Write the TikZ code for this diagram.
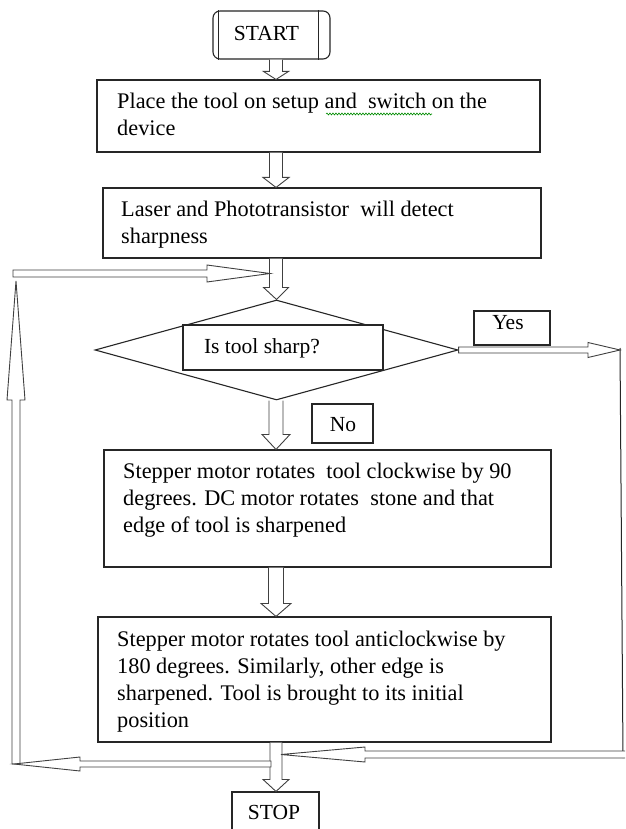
\documentclass[tikz,border=0pt]{standalone}
\usepackage{fontspec}
\setmainfont{Liberation Serif}
\usetikzlibrary{calc,shapes.geometric,decorations.pathmorphing}
\tikzset{
  boxn/.style={draw=black!85, line width=1.1pt, inner sep=0pt, fill=white},
  txt/.style={inner sep=0pt, align=left, font=\fontsize{22.3}{27}\selectfont},
  lbl/.style={inner sep=0pt, font=\fontsize{21.5}{27}\selectfont},
  blk/.style={draw=black!75, line width=0.9pt, fill=white, line join=miter},
  thin/.style={draw=black!85, line width=1pt}
}
% down block arrow: #1 from, #2 to, #3 shaft half, #4 head half, #5 head length
\newcommand\bkdown[5]{\draw[blk] let \p1=#1, \p2=#2 in (\x1-#3,\y1) -- (\x1-#3,\y2+#5) -- (\x1-#4,\y2+#5) -- (\x2,\y2) -- (\x1+#4,\y2+#5) -- (\x1+#3,\y2+#5) -- (\x1+#3,\y1);}
% up block arrow
\newcommand\bkup[5]{\draw[blk] let \p1=#1, \p2=#2 in (\x1-#3,\y1) -- (\x1-#3,\y2-#5) -- (\x1-#4,\y2-#5) -- (\x2,\y2) -- (\x1+#4,\y2-#5) -- (\x1+#3,\y2-#5) -- (\x1+#3,\y1) -- cycle;}
% right block arrow
\newcommand\bkright[5]{\draw[blk] let \p1=#1, \p2=#2 in (\x1,\y1+#3) -- (\x2-#5,\y1+#3) -- (\x2-#5,\y1+#4) -- (\x2,\y2) -- (\x2-#5,\y1-#4) -- (\x2-#5,\y1-#3) -- (\x1,\y1-#3) -- cycle;}
% left block arrow
\newcommand\bkleft[5]{\draw[blk] let \p1=#1, \p2=#2 in (\x1,\y1+#3) -- (\x2+#5,\y1+#3) -- (\x2+#5,\y1+#4) -- (\x2,\y2) -- (\x2+#5,\y1-#4) -- (\x2+#5,\y1-#3) -- (\x1,\y1-#3) -- cycle;}
\begin{document}
\begin{tikzpicture}[x=1pt,y=-1pt]
\clip (0,0) rectangle (625,829);
\fill[white] (0,0) rectangle (625,829);

% START
\node[boxn, rounded corners=7pt, minimum width=117pt, minimum height=48pt] (start) at (271.5,35) {};
\draw[thin] ([xshift=6pt]start.north west) -- ([xshift=6pt]start.south west);
\draw[thin] ([xshift=-12pt]start.north east) -- ([xshift=-12pt]start.south east);
\node[lbl] (starttxt) at (266.5,33) {START};

% boxes
\node[boxn, minimum width=443pt, minimum height=72pt] (b1) at (318.5,116) {};
\node[boxn, minimum width=438pt, minimum height=70pt] (b2) at (322,223) {};
\node[draw=black!85, line width=1.1pt, diamond, inner sep=0pt, minimum width=363pt, minimum height=100pt] (dia) at (276.5,350) {};
\node[boxn, minimum width=200pt, minimum height=45pt] (q) at (283,347.5) {};
\node[lbl] (qtxt) at (262,348) {Is tool sharp?};
\node[boxn, minimum width=76pt, minimum height=34pt] (yes) at (512,328) {};
\node[lbl] (yestxt) at (508,323) {Yes};
\node[boxn, minimum width=61pt, minimum height=39pt] (no) at (342.5,423.5) {};
\node[lbl] (notxt) at (343,425) {No};
\node[boxn, minimum width=447pt, minimum height=117pt] (b3) at (327.5,508.5) {};
\node[boxn, minimum width=453pt, minimum height=125pt] (b4) at (324.5,679.5) {};
\node[boxn, minimum width=87pt, minimum height=48pt] (stop) at (275.5,816) {};
\node[lbl] (stoptxt) at (274,812) {STOP};

% texts (anchor = baseline of last line)
\node[txt, anchor=base west] (t1) at (117,136) {Place the tool on setup and~ switch on the\\device};
\draw[green!55!black, line width=0.6pt, decorate, decoration={snake, amplitude=1pt, segment length=3pt}] (326,114) -- (432,114);
\node[txt, anchor=base west] (t2) at (121,243) {Laser and Phototransistor~ will detect\\sharpness};
\node[txt, anchor=base west] (t3) at (123,532) {Stepper motor rotates~ tool clockwise by 90\\degrees. DC motor rotates~ stone and that\\edge of tool is sharpened};
\node[txt, anchor=base west] (t4) at (117,727) {Stepper motor rotates tool anticlockwise by\\180 degrees. Similarly, other edge is\\sharpened. Tool is brought to its initial\\position};

% axis coordinates
\coordinate (ax) at (276,0);
\coordinate (loopin) at (270,273.5);
\coordinate (ltop) at (13,273.5);
\coordinate (ltip) at (16,281);
\coordinate (lbot) at (16,764);
\coordinate (blstart) at (271,764);
\coordinate (bltip) at (14,764);
\coordinate (yestip) at (620,350);
\coordinate (rtop) at (620,348);
\coordinate (rbot) at (623,758);
\coordinate (brstart) at (626,754.5);
\coordinate (brtip) at (281,754.5);

% vertical block arrows
\bkdown{(ax |- start.south)}{(ax |- b1.north)}{6.5}{12.5}{8}
\bkdown{(ax |- b1.south)}{(ax |- b2.north)}{6.5}{13}{10}
\bkdown{(ax |- b2.south)}{(dia.north)}{6.5}{12.5}{12}
\bkdown{(ax |- dia.south)}{(ax |- b3.north)}{7}{14}{15}
\bkdown{(ax |- b3.south)}{(ax |- b4.north)}{7.5}{15}{13}
\bkdown{(ax |- b4.south)}{(ax |- stop.north)}{6}{13}{12}

% loop arrows
\bkup{(lbot)}{(ltip)}{4}{9}{119}
\bkright{(ltop)}{(loopin)}{3.5}{8.5}{63}
\bkright{(dia.east)}{(yestip)}{3}{7.5}{32}
\draw[thin] (rtop) -- (rbot);
\bkleft{(brstart)}{(brtip)}{3.5}{7.5}{84}
\bkleft{(blstart)}{(bltip)}{3}{7}{66}
\end{tikzpicture}
\end{document}
